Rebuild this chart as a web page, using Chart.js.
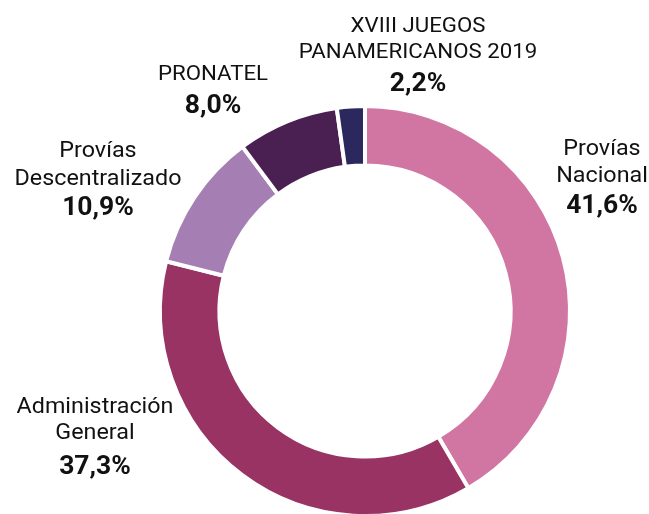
<!DOCTYPE html>
<html>
<head>
<meta charset="utf-8">
<script src="https://cdn.jsdelivr.net/npm/chart.js@4"></script>
<style>
  html, body { margin: 0; padding: 0; background: #fff; overflow: hidden; }
  #wrap { width: 649px; height: 530px; }
</style>
</head>
<body>
<div id="wrap"><canvas id="budgetChart"></canvas></div>
<script>
// Data
const categories = [
  "Provías Nacional",
  "Administración General",
  "Provías Descentralizado",
  "PRONATEL",
  "XVIII Juegos Panamericanos 2019",
];
const shares = [41.6, 37.3, 10.9, 8.0, 2.2];
const sliceColors = ["#D176A2", "#983364", "#A57FB4", "#4A1F52", "#2B285E"];

// label text lines per slice (name lines, then the value)
const labelLines = [
  ["Provías", "Nacional"],
  ["Administración", "General"],
  ["Provías", "Descentralizado"],
  ["PRONATEL"],
  ["XVIII JUEGOS", "PANAMERICANOS 2019"],
];

const fmt = (v) => v.toFixed(1).replace(".", ",") + "%";

// where each label block sits: x center, baselines of name lines, baseline of value
const labelPlaces = [
  { x: 602, lines: [155, 182], value: 213, size: 22 },
  { x: 95, lines: [413, 439], value: 474, size: 22 },
  { x: 98, lines: [157, 185], value: 215, size: 22 },
  { x: 213, lines: [80], value: 113, size: 21 },
  { x: 418, lines: [32, 58], value: 91, size: 21 },
];

// text in the reference is a little wider than plain Roboto
function stretchedText(c, text, x, y, sx) {
  c.save();
  c.translate(x, y);
  c.scale(sx, 1);
  c.fillText(text, 0, 0);
  c.restore();
}

const outsideLabels = {
  id: "outsideLabels",
  afterDraw(chart) {
    const c = chart.ctx;
    c.save();
    c.textAlign = "center";
    c.textBaseline = "alphabetic";
    c.fillStyle = "#111";
    labelPlaces.forEach((p, i) => {
      c.font = `400 ${p.size}px Roboto`;
      labelLines[i].forEach((t, j) => stretchedText(c, t, p.x, p.lines[j], 1.06));
      c.font = "700 25px Roboto";
      stretchedText(c, fmt(shares[i]), p.x, p.value, 1.06);
    });
    c.restore();
  },
};

const ctx = document.getElementById("budgetChart").getContext("2d");
const budgetChart = new Chart(ctx, {
  type: "doughnut",
  data: {
    labels: categories,
    datasets: [
      {
        data: shares,
        backgroundColor: sliceColors,
        borderColor: "#ffffff",
        borderWidth: 4,
      },
    ],
  },
  options: {
    responsive: true,
    maintainAspectRatio: false,
    animation: false,
    cutout: "71%",
    layout: {
      padding: { left: 158, right: 77, top: 104, bottom: 12 },
    },
    plugins: {
      legend: { display: false },
      tooltip: { enabled: false },
    },
  },
  plugins: [outsideLabels],
});
</script>
</body>
</html>
